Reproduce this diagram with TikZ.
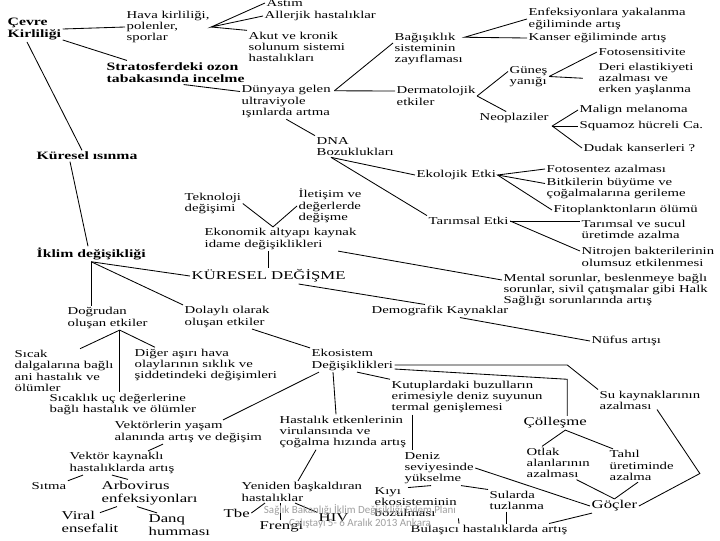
\documentclass[tikz,border=0pt]{standalone}
\usepackage{fontspec}
\setmainfont[FakeStretch=1.4]{Liberation Serif}
\newfontfamily\wmfont{Carlito}
\usetikzlibrary{calc}

\begin{document}
\begin{tikzpicture}[
  x=0.025cm, y=-0.025cm,
  item/.style={anchor=west, align=left, inner sep=1pt, font=\fontsize{7.5}{8}\selectfont},
  head/.style={item, font=\fontsize{8}{9}\selectfont\bfseries},
  large/.style={item, font=\fontsize{8.5}{9.2}\selectfont},
  link/.style={line width=0.6pt},
  watermark/.style={font=\wmfont\fontsize{7.8}{9.2}\selectfont, text=gray!75, align=center},
]
\useasboundingbox (0,0) rectangle (720,540);
% Cevre kirliligi
\node[head]  (cevre)    at (6,29)      {Çevre\\Kirliliği};
\node[item]  (hava)     at (125,27)    {Hava kirliliği,\\polenler,\\sporlar};
\node[item]  (astim)    at (265,3)     {Astım};
\node[item]  (allerji)  at (263,16)    {Allerjik hastalıklar};
\node[item]  (akut)     at (247,47)    {Akut ve kronik\\solunum sistemi\\hastalıkları};
\node[head]  (strato)   at (105,72.5)  {Stratosferdeki ozon\\tabakasında incelme};
\node[item]  (dunya)    at (240,101.5) {Dünyaya gelen\\ultraviyole\\ışınlarda artma};
\node[item]  (dna)      at (315,146.5) {DNA\\Bozuklukları};
\node[item]  (bagisik)  at (393,49)    {Bağışıklık\\sisteminin\\zayıflaması};
\node[item]  (enfek)    at (527,19)    {Enfeksiyonlara yakalanma\\eğiliminde artış};
\node[item]  (kanser)   at (527,38)    {Kanser eğiliminde artış};
\node[item]  (derma)    at (395,96)    {Dermatolojik\\etkiler};
\node[item]  (gunes)    at (508,76.5)  {Güneş\\yanığı};
\node[item]  (foto)     at (597,52)    {Fotosensitivite};
\node[item]  (deri)     at (597,79)    {Deri elastikiyeti\\azalması ve\\erken yaşlanma};
\node[item]  (neo)      at (478,118)   {Neoplaziler};
\node[item]  (malign)   at (578,110)   {Malign melanoma};
\node[item]  (squamoz)  at (578,126)   {Squamoz hücreli Ca.};
\node[item]  (dudak)    at (582,148)   {Dudak kanserleri ?};
\node[head]  (kuresel)  at (35,156)    {Küresel ısınma};
\node[item]  (ekolojik) at (415,175)   {Ekolojik Etki};
\node[item]  (fotosentez) at (545,169) {Fotosentez azalması};
\node[item]  (bitki)    at (545,188.5) {Bitkilerin büyüme ve\\çoğalmalarına gerileme};
\node[item]  (fito)     at (552,210)   {Fitoplanktonların ölümü};
\node[item]  (tarim)    at (427,221)   {Tarımsal Etki};
\node[item]  (tarsucul) at (580,229.5) {Tarımsal ve sucul\\üretimde azalma};
\node[item]  (nitro)    at (580,257)   {Nitrojen bakterilerinin\\olumsuz etkilenmesi};
% Kuresel degisme
\node[item]  (tekno)    at (183,203.5) {Teknoloji\\değişimi};
\node[item]  (iletisim) at (297,206)   {İletişim ve\\değerlerde\\değişme};
\node[item]  (ekonomi)  at (203,239)   {Ekonomik altyapı kaynak\\idame değişiklikleri};
\node[head]  (iklim)    at (35,254)    {İklim değişikliği};
\node[large] (kdegisme) at (190,276)   {KÜRESEL DEĞİŞME};
\node[item]  (mental)   at (502,290)   {Mental sorunlar, beslenmeye bağlı\\sorunlar, sivil çatışmalar gibi Halk\\Sağlığı sorunlarında artış};
\node[item]  (demog)    at (370,311)   {Demografik Kaynaklar};
\node[item]  (nufus)    at (590,341)   {Nüfus artışı};
% Iklim degisikligi etkileri
\node[item]  (dogrudan) at (66,318)    {Doğrudan\\oluşan etkiler};
\node[item]  (dolayli)  at (183,317)   {Dolaylı olarak\\oluşan etkiler};
\node[item]  (sicak)    at (13,371)    {Sıcak\\dalgalarına bağlı\\ani hastalık ve\\ölümler};
\node[item]  (diger)    at (133,365)   {Diğer aşırı hava\\olaylarının sıklık ve\\şiddetindeki değişimleri};
\node[item]  (sicaklik) at (48,404.5)  {Sıcaklık uç değerlerine\\bağlı hastalık ve ölümler};
\node[item]  (ekosis)   at (310,360)   {Ekosistem\\Değişiklikleri};
\node[item]  (kutup)    at (390,397)   {Kutuplardaki buzulların\\erimesiyle deniz suyunun\\termal genişlemesi};
\node[item]  (sukay)    at (598,400.5) {Su kaynaklarının\\azalması};
\node[large] (colle)    at (522,423)   {Çölleşme};
\node[item]  (otlak)    at (525,463)   {Otlak\\alanlarının\\azalması};
\node[item]  (tahil)    at (608,465.5) {Tahıl\\üretiminde\\azalma};
\node[large] (goc)      at (590,506)   {Göçler};
\node[item]  (deniz)    at (403,468)   {Deniz\\seviyesinde\\yükselme};
\node[item]  (kiyi)     at (373,502)   {Kıyı\\ekosisteminin\\bozulması};
\node[item]  (sularda)  at (488,500.5) {Sularda\\tuzlanma};
\node[item]  (bulasici) at (409,530)   {Bulaşıcı hastalıklarda artış};
\node[item]  (hastalik) at (278,432)   {Hastalık etkenlerinin\\virulansında ve\\çoğalma hızında artış};
\node[item]  (yeniden)  at (240,492)   {Yeniden başkaldıran\\hastalıklar};
\node[large] (tbe)      at (222,513)   {Tbe};
\node[large] (hiv)      at (317,518)   {HIV};
\node[large] (frengi)   at (258,527)   {Frengi};
\node[item]  (vektorlerin) at (113,432) {Vektörlerin yaşam\\alanında artış ve değişim};
\node[item]  (vektor)   at (68,463)    {Vektör kaynaklı\\hastalıklarda artış};
\node[item]  (sitma)    at (30,486)    {Sıtma};
\node[large] (arbo)     at (100,493)   {Arbovirus\\enfeksiyonları};
\node[large] (viral)    at (60,522)    {Viral\\ensefalit};
\node[large] (danq)     at (147,525)   {Danq\\humması};

% Connectors: upper part
\draw[link] (cevre.east) -- (hava.west);
\draw[link] (astim.west) -- (hava.east) -- (allerji.west);
\draw[link] (hava.east) -- (akut.north west);
\draw[link] ($(cevre.south east)+(0,-2)$) -- ($(strato.north west)+(22,0)$);
\draw[link] ($(strato.south)+(8,0)$) -- ($(dunya.west)+(0,-10)$);
\draw[link] (dunya.south) -- (dna.north west);
\coordinate (dj) at ($(dunya.north east)+(2,7)$);
\draw[link] (dj) -- ($(bagisik.west)+(0,-6)$);
\draw[link] (dj) -- ($(derma.west)+(0,-5)$);
\coordinate (bj) at ($(bagisik.north east)+(0,6)$);
\draw[link] (enfek.west) -- (bj) -- (kanser.west);
\draw[link] (derma.east) -- ($(gunes.west)+(0,-5)$);
\draw[link] (derma.east) -- ($(neo.north)+(-8,0)$);
\draw[link] (gunes.east) -- (foto.west);
\draw[link, shorten >=10pt] (gunes.east) -- (deri.west);
\coordinate (nj) at ($(neo.east)+(2,8)$);
\draw[link] (malign.west) -- (nj) -- (dudak.west);
\draw[link] (nj) -- (squamoz.west);
\draw[link] ($(cevre.south west)+(21,0)$) -- ($(kuresel.north west)+(47,0)$);
\draw[link] ($(kuresel.south west)+(35,0)$) -- ($(iklim.north west)+(53,0)$);
\coordinate (dnj) at ($(dna.south west)+(16,0)$);
\draw[link] (dnj) -- (ekolojik.west);
\draw[link] (dnj) -- (tarim.north west);
\draw[link] (fotosentez.west) -- (ekolojik.east) -- (fito.west);
\draw[link] (ekolojik.east) -- ($(bitki.west)+(0,-5)$);
\draw[link] (tarim.east) -- (tarim.east -| tarsucul.west);
\draw[link] (tarim.east) -- ($(nitro.west)+(0,-6)$);
% Connectors: middle part
\coordinate (ej) at ($(ekonomi.north west)+(70,0)$);
\draw[link] (tekno.east) -- (ej) -- (iletisim.west);
\draw[link] (ekonomi.south -| kdegisme.north) -- (kdegisme.north);
\draw[link] ($(ekonomi.south east)+(-20,0)$) -- ($(mental.west)+(0,-10)$);
\draw[link] (iklim.south) -- (kdegisme.west);
\draw[link] (iklim.south) -- (iklim.south |- dogrudan.north);
\draw[link] (iklim.south) -- (dolayli.north west);
\draw[link] ($(kdegisme.south)+(30,0)$) -- ($(demog.north)+(-15,0)$);
\draw[link] ($(demog.south)+(20,0)$) -- (nufus.west);
\coordinate (dgj) at ($(dogrudan.south)+(12,0)$);
\draw[link] (dgj) -- ($(sicak.north west)+(67,0)$);
\draw[link] (dgj) -- ($(diger.north west)+(22,0)$);
\draw[link] (dgj) -- (dgj |- sicaklik.north);
\draw[link] ($(dolayli.south)+(25,0)$) -- (ekosis.north west);
% Connectors: lower part
\draw[link] ($(ekosis.south west)+(9,0)$) -- ($(vektorlerin.north west)+(110,0)$);
\draw[link] ($(ekosis.south west)+(23,0)$) -- ($(hastalik.north west)+(58,0)$);
\draw[link] ($(ekosis.south west)+(47,0)$) -- (kutup.north west);
\coordinate (ck) at ($(colle.north)+(12,0)$);
\coordinate (ek1) at ($(ekosis.east)+(0,5)$);
\coordinate (ek2) at ($(ekosis.east)+(0,9)$);
\draw[link] (ek1) -- (ek1 -| ck) -- (sukay.north west);
\draw[link] (ek2) -- (ck |- kutup.north) -- (ck);
\draw[link] ($(kutup.south west)+(22,0)$) -- ($(deniz.north west)+(9,0)$);
\coordinate (cj) at ($(colle.south)+(10,0)$);
\draw[link] ($(otlak.north west)+(17,0)$) -- (cj) -- ($(tahil.north west)+(5,0)$);
\draw[link] ($(otlak.south east)+(-15,0)$) -- (goc.north);
\draw[link] ($(tahil.south west)+(30,0)$) -- (goc.north);
\coordinate (sk) at ($(sukay.south east)+(-2,62)$);
\draw[link] ($(sukay.south west)+(59,-2)$) -- (sk) -- (goc.east);
\draw[link] (deniz.east) -- (goc.west);
\draw[link] ($(deniz.south west)+(28,0)$) -- ($(kiyi.north west)+(35,2)$);
\draw[link] ($(deniz.south west)+(58,0)$) -- (sularda.north west);
\coordinate (sj) at ($(sularda.south west)+(18,0)$);
\draw[link] (sj) -- (sj |- bulasici.north);
\draw[link] (kiyi.south east) -- ($(bulasici.north west)+(50,0)$);
\draw[link] ($(goc.south west)+(2,0)$) -- ($(bulasici.north east)+(-20,0)$);
\draw[link] ($(hastalik.south west)+(38,0)$) -- ($(yeniden.north west)+(58,0)$);
\draw[link] ($(yeniden.south west)+(25,0)$) -- (tbe.east);
\coordinate (fj) at ($(yeniden.south west)+(40,0)$);
\draw[link] (fj) -- (fj |- frengi.north);
\draw[link] ($(yeniden.south west)+(55,0)$) -- (hiv.north west);
\draw[link] ($(vektorlerin.south west)+(50,0)$) -- ($(vektor.north west)+(80,0)$);
\draw[link] ($(vektor.south west)+(15,0)$) -- (sitma.north east);
\draw[link] ($(vektor.south west)+(44,0)$) -- ($(arbo.north west)+(28,0)$);
\draw[link] ($(arbo.south west)+(17,0)$) -- ($(viral.north west)+(40,3)$);
\draw[link] ($(arbo.south west)+(37,0)$) -- ($(danq.north west)+(10,0)$);
% Watermark
\node[watermark] (wm) at (360,516) {Sağlık Bakanlığı İklim Değişikliği Eylem Planı\\Çalıştayı 5- 6 Aralık 2013 Ankara};
\end{tikzpicture}
\end{document}
